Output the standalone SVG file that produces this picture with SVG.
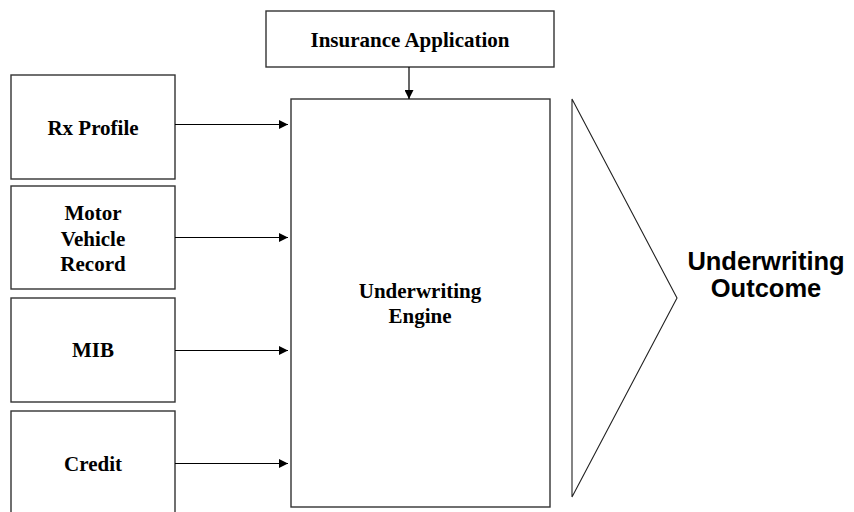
<svg xmlns="http://www.w3.org/2000/svg" width="854" height="512" viewBox="0 0 854 512">
<style>
.box{fill:#fff;stroke:#333;stroke-width:1.4}
.t{font-family:"Liberation Serif","Times New Roman",serif;font-weight:bold;font-size:21px;fill:#000;text-anchor:middle}
.o{font-family:"Liberation Sans",Arial,sans-serif;font-weight:bold;font-size:25.5px;fill:#000;text-anchor:middle}
.c{stroke:#000;stroke-width:1.2;fill:none;marker-end:url(#ah)}
</style>
<defs>
<marker id="ah" viewBox="0 0 10 10" refX="10" refY="5" markerWidth="10" markerHeight="9" markerUnits="userSpaceOnUse" orient="auto">
<path d="M0,0 L10,5 L0,10 Z" fill="#000"/>
</marker>
</defs>
<rect width="854" height="512" fill="#fff"/>
<g id="insurance-application">
<rect class="box" x="266" y="11" width="288" height="56"/>
<text class="t" x="410" y="47">Insurance Application</text>
</g>
<g id="rx-profile">
<rect class="box" x="11" y="75" width="164" height="104"/>
<text class="t" x="93" y="135">Rx Profile</text>
</g>
<g id="motor-vehicle-record">
<rect class="box" x="11" y="186" width="164" height="103"/>
<text class="t" x="93" y="220">Motor</text>
<text class="t" x="93" y="245.5">Vehicle</text>
<text class="t" x="93" y="271">Record</text>
</g>
<g id="mib">
<rect class="box" x="11" y="298" width="164" height="104"/>
<text class="t" x="93" y="357">MIB</text>
</g>
<g id="credit">
<rect class="box" x="11" y="411" width="164" height="110"/>
<text class="t" x="93" y="471">Credit</text>
</g>
<g id="underwriting-engine">
<rect class="box" x="291" y="99" width="259" height="408"/>
<text class="t" x="420" y="298">Underwriting</text>
<text class="t" x="420" y="323">Engine</text>
</g>
<g id="underwriting-outcome">
<polygon points="572,99 677,298 572,497" fill="#fff" stroke="#222" stroke-width="1.1"/>
<text class="o" x="766" y="270">Underwriting</text>
<text class="o" x="766" y="297">Outcome</text>
</g>
<g id="connectors">
<path class="c" d="M409,67 L409,99"/>
<path class="c" d="M175,124.5 L288,124.5"/>
<path class="c" d="M175,237.5 L288,237.5"/>
<path class="c" d="M175,350.5 L288,350.5"/>
<path class="c" d="M175,463.5 L288,463.5"/>
</g>
</svg>
